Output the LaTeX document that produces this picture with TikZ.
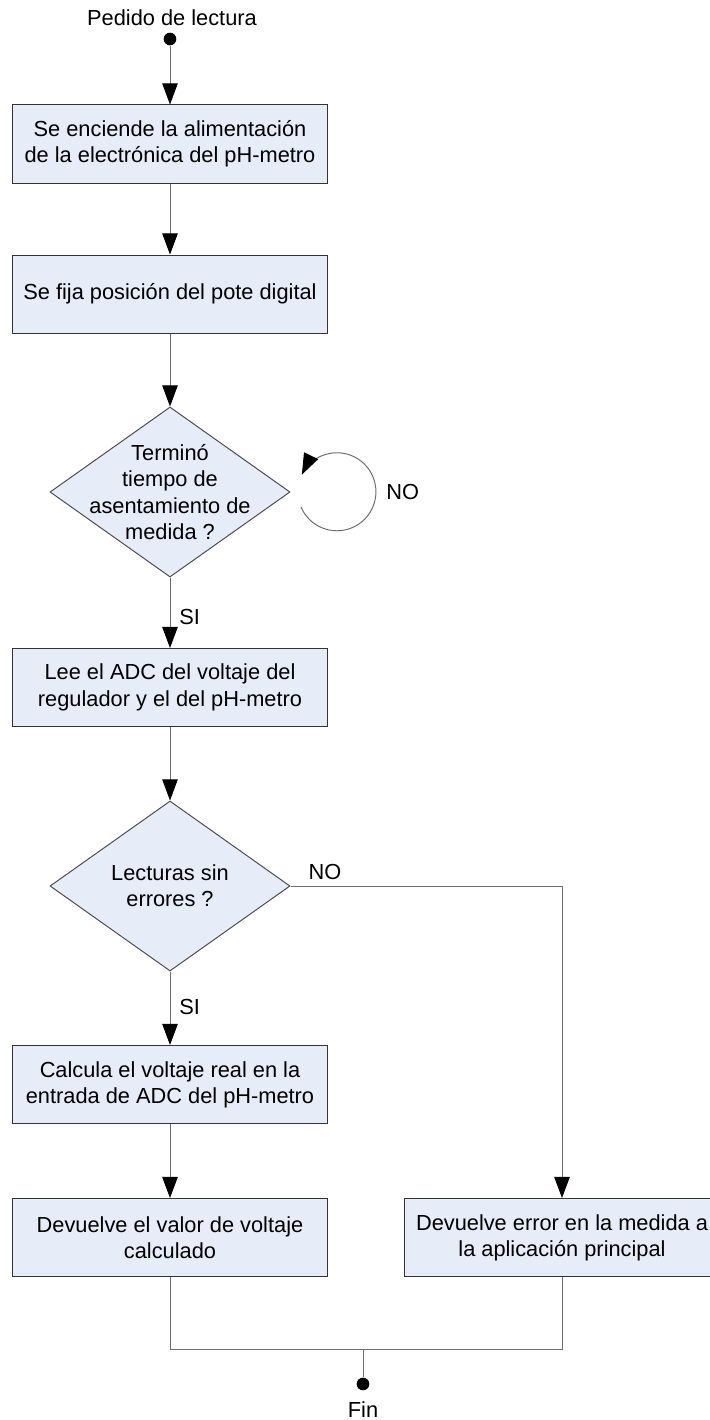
\documentclass[tikz,border=0pt]{standalone}
\usepackage{fontspec}
\setmainfont{Liberation Sans}
\usetikzlibrary{shapes.geometric,arrows.meta}
\definecolor{boxfill}{RGB}{231,237,248}
\definecolor{edgegray}{RGB}{110,110,110}
\begin{document}
\begin{tikzpicture}[x=0.025cm,y=-0.025cm,
    font=\fontsize{15.5}{18.7}\selectfont,
    box/.style={draw=black!80,fill=boxfill,line width=0.7pt,minimum width=7.85cm,minimum height=1.95cm,align=center,inner sep=0pt},
    decision/.style={diamond,draw=black!70,fill=boxfill,line width=0.7pt,minimum width=6cm,minimum height=4.25cm,inner sep=0pt},
    txt/.style={align=center,inner sep=0pt},
    dot/.style={circle,fill=black,minimum size=9pt,inner sep=0pt},
    flow/.style={draw=edgegray,line width=0.7pt},
    arr/.style={flow,-{Triangle[length=15pt,width=11pt,color=black]}},
    ]
            \useasboundingbox (0,0) rectangle (710,1420);

            \node[txt] (pedido) at (172,18) {Pedido de lectura};
            \node[dot] (inicio) at (170,39) {};
            \node[box] (b1) at (170,144) {Se enciende la alimentación\\de la electrónica del pH-metro};
            \node[box] (b2) at (170,294) {Se fija posición del pote digital};
            \node[decision] (d1) at (170,492) {};
            \node[txt] (d1txt) at (d1) {Terminó\\tiempo de\\asentamiento de\\medida ?};
            \node[box] (b3) at (170,687.5) {Lee el ADC del voltaje del\\regulador y el del pH-metro};
            \node[decision] (d2) at (170,886) {};
            \node[txt] (d2txt) at (d2) {Lecturas sin\\errores ?};
            \node[box] (b4) at (170,1084.5) {Calcula el voltaje real en la\\entrada de ADC del pH-metro};
            \node[box] (b5) at (170,1237.5) {Devuelve el valor de voltaje\\calculado};
            \node[box] (b6) at (562,1237.5) {Devuelve error en la medida a\\la aplicación principal};
            \node[dot] (final) at (363,1384) {};
            \node[txt] (fin) at (363,1410) {Fin};

            \draw[arr] (inicio) -- (b1);
            \draw[arr] (b1) -- (b2);
            \draw[arr] (b2) -- (d1);
            \draw[arr] (d1) -- (b3);
            \draw[arr] (b3) -- (d2);
            \draw[arr] (d2) -- (b4);
            \draw[arr] (b4) -- (b5);
            \draw[arr] (d2.east) -| (b6.north);

            \coordinate (loop) at (301,507);
            \draw[flow,-{Triangle[length=15pt,width=11pt,color=black]}] (loop) arc[start angle=203,end angle=514,radius=0.975cm];

            \coordinate (union) at (363,1349);
            \draw[flow] (b5.south) |- (union);
            \draw[flow] (b6.south) |- (union);
            \draw[flow] (union) -- (final);

            \node[txt,anchor=west] (si1) at (179,617) {SI};
            \node[txt,anchor=west] (si2) at (179,1007) {SI};
            \node[txt,anchor=west] (no1) at (386,492) {NO};
            \node[txt] (no2) at (325,872) {NO};

        \end{tikzpicture}
\end{document}
